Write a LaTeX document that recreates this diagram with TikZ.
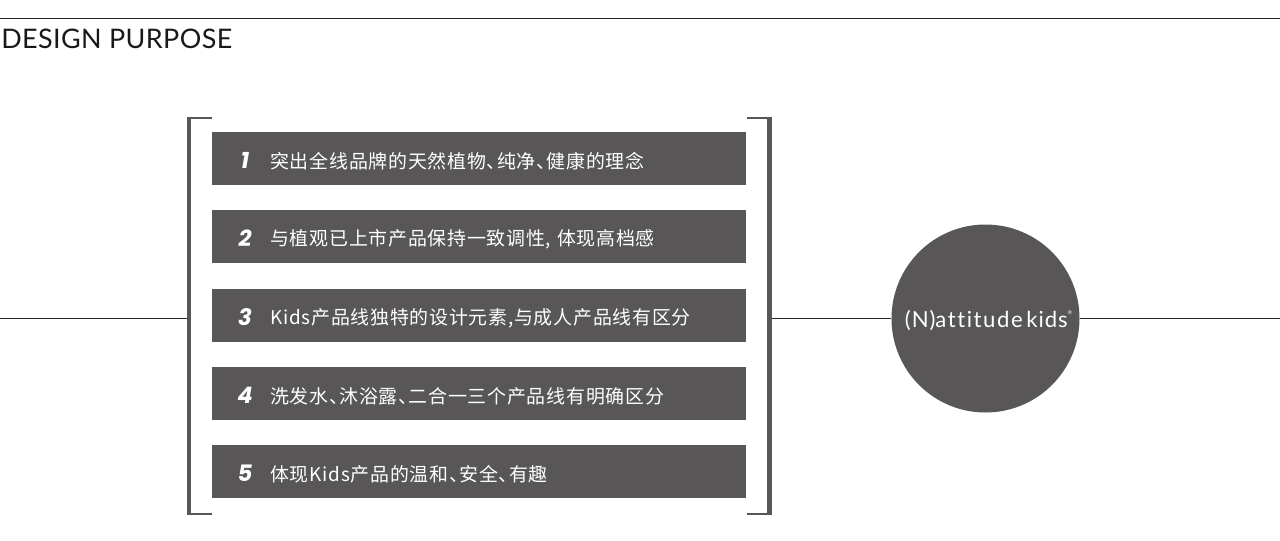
\documentclass[tikz,border=0pt]{standalone}
\usepackage{fontspec}
\setmainfont[LetterSpace=1.5]{Lato}
\newfontfamily\cjk[LetterSpace=4,RawFeature={+halt}]{Noto Sans CJK SC}
\newfontfamily\numfont{Poppins}
\newfontfamily\logofont[LetterSpace=4,RawFeature={-liga;-dlig}]{Lato}
\newfontfamily\logowide[LetterSpace=7,RawFeature={-liga;-dlig}]{Lato}
\tikzset{
  >=latex,
}
\definecolor{boxgray}{HTML}{585657}
\tikzstyle{rule}=[line width=.75pt,draw=black!85]
\tikzstyle{rowbox}=[fill=boxgray,draw=none,minimum width=400.5pt,minimum height=39.75pt,inner sep=0pt,anchor=north west]
\tikzstyle{num}=[text=white,font=\fontsize{17}{17}\numfont\bfseries\itshape,inner sep=0pt]
\tikzstyle{rowtext}=[text=white,font=\fontsize{14.2}{14.2}\cjk,inner sep=0pt,anchor=west]
\tikzstyle{bracketbar}=[draw=boxgray,line width=3.4pt]
\tikzstyle{bracketarm}=[draw=boxgray,line width=1.5pt]
\begin{document}
\begin{tikzpicture}[x=.75pt,y=-.75pt]
      \useasboundingbox (0,0) rectangle (1280,540);
      \coordinate (topL) at (0,18.5);
      \coordinate (topR) at (1280,18.5);
      \coordinate (midL) at (0,318.5);
      \coordinate (midR) at (1280,318.5);
      \draw[rule] (topL)--(topR);
      \node[anchor=west,inner sep=0pt,font=\fontsize{20.2}{20.2}\selectfont,text=black!90] (title) at (1,38.5) {DESIGN PURPOSE};
      % rows
      \foreach \n/\y/\txt in {
        1/132/突出全线品牌的天然植物、纯净、健康的理念,
        2/210/{与植观已上市产品保持一致调性,\hspace{4.5pt}体现高档感},
        3/289/{Kids产品线独特的设计元素,与成人产品线有区分},
        4/367/洗发水、沐浴露、二合一三个产品线有明确区分,
        5/445/体现Kids产品的温和、安全、有趣}{
        \node[rowbox] (row\n) at (212,\y) {};
        \node[num] (num\n) at (245,\y+28) {\n};
        \node[rowtext] (txt\n) at (270,\y+29) {\txt};
      }
      % brackets
      \coordinate (brLtop) at (189,117.5);
      \coordinate (brLbot) at (189,513.5);
      \coordinate (brRtop) at (769.5,117.5);
      \coordinate (brRbot) at (769.5,513.5);
      \coordinate (brLmid) at (187,318.5);
      \coordinate (brRmid) at (772,318.5);
      \draw[bracketbar] (brLtop)--(brLbot);
      \draw[bracketbar] (brRtop)--(brRbot);
      \draw[bracketarm] (187,117.5)--(212,117.5);
      \draw[bracketarm] (187,513.5)--(212,513.5);
      \draw[bracketarm] (747,117.5)--(772,117.5);
      \draw[bracketarm] (747,513.5)--(772,513.5);
      % logo
      \node[circle,fill=boxgray,minimum size=141pt,inner sep=0pt] (logo) at (985.5,318.5) {};
      \node[text=white,inner sep=0pt,font=\fontsize{16.6}{16.6}\logofont] (logotext) at (988.5,320.5) {(N){\logowide attitude}\,kids\raisebox{1.2ex}{\fontsize{4}{4}\selectfont ®}};
      \draw[rule] (midL)--(brLmid);
      \draw[rule] (brRmid)--(logo.west);
      \draw[rule] (logo.east)--(midR);
    \end{tikzpicture}
\end{document}
